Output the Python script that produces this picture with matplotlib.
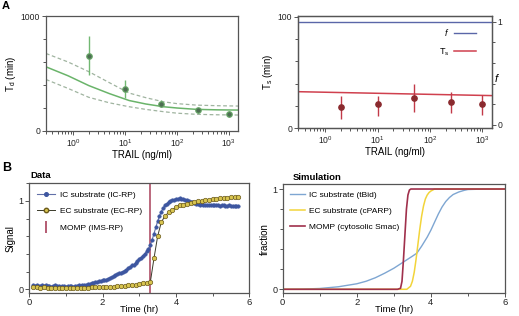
import numpy as np
import matplotlib
matplotlib.use("Agg")
import matplotlib.pyplot as plt
from matplotlib.lines import Line2D
from matplotlib.ticker import MultipleLocator, FixedLocator

plt.rcParams['font.family'] = ['Liberation Sans', 'DejaVu Sans']
plt.rcParams['mathtext.fontset'] = 'custom'
plt.rcParams['mathtext.rm'] = 'Liberation Sans'
plt.rcParams['mathtext.it'] = 'Liberation Sans:italic'

# ---------------- Panel A data ----------------
trail = [2, 10, 50, 250, 1000]
td_mean = [653, 361, 234, 179, 145]
td_lo = [486, 289, 205, 153, 118]
td_hi = [824, 442, 269, 202, 173]

fit_x = [0.3, 0.8, 2, 5, 12, 25, 55, 100, 240, 600, 1500]
fit_mid = [558, 480, 395, 325, 265, 235, 211, 200, 188, 184, 182]
fit_up = [674, 600, 516, 420, 330, 290, 254, 238, 225, 220, 217]
fit_low = [448, 370, 293, 245, 211, 188, 168, 155, 145, 141, 139]

ts_mean = [18.8, 22.0, 27.5, 23.9, 21.8]
ts_lo = [8.4, 11.3, 14.3, 14.0, 12.0]
ts_hi = [29.0, 29.3, 39.7, 32.8, 30.0]
ts_line_x = [0.3, 1500]
ts_line_y = [32.8, 29.3]
f_line_x = [0.3, 1500]
f_line_y = [1.0, 1.0]

# ---------------- Panel B data ----------------
t_ic_start, t_ic_step = 0.10, 0.05
ic_signal = [0.05, 0.04, 0.05, 0.04, 0.04, 0.05, 0.04, 0.05, 0.04, 0.04,
             0.03, 0.04, 0.05, 0.04, 0.04, 0.03, 0.04, 0.04, 0.03, 0.04,
             0.04, 0.04, 0.03, 0.04, 0.04, 0.05, 0.04, 0.05, 0.05,
             0.05, 0.06, 0.06, 0.07, 0.07, 0.08, 0.08, 0.09, 0.09, 0.10,
             0.11, 0.11, 0.12, 0.13, 0.14, 0.15, 0.16, 0.17, 0.18, 0.19,
             0.20, 0.21, 0.22, 0.24, 0.25, 0.27, 0.28, 0.30, 0.32, 0.34,
             0.36, 0.38, 0.40, 0.43, 0.46, 0.50,
             0.56, 0.63, 0.70, 0.77, 0.83, 0.88, 0.92, 0.95, 0.97, 0.99,
             1.00, 1.01, 1.01, 1.02, 1.02, 1.03, 1.02, 1.02, 1.01, 1.01,
             1.00, 0.99, 0.99, 0.98, 0.97, 0.97, 0.96, 0.97, 0.96, 0.96,
             0.95, 0.96, 0.95, 0.95, 0.96, 0.95, 0.95, 0.94, 0.95, 0.95,
             0.94, 0.94, 0.95, 0.94, 0.94, 0.94, 0.94, 0.94]
t_ec_start, t_ec_step = 0.10, 0.10
ec_signal = [0.03, 0.03, 0.02, 0.03, 0.02, 0.02, 0.02, 0.02, 0.02, 0.02,
             0.02, 0.02, 0.02, 0.02, 0.02, 0.02, 0.03, 0.03, 0.03, 0.03,
             0.03, 0.03, 0.03, 0.04, 0.04, 0.04, 0.05, 0.05, 0.05, 0.06,
             0.07, 0.07, 0.08,
             0.35, 0.60, 0.76, 0.83, 0.87, 0.90, 0.93,
             0.95, 0.96, 0.97, 0.98, 0.99, 1.00, 1.00, 1.01, 1.01, 1.02,
             1.02, 1.03, 1.03, 1.03, 1.04, 1.04, 1.05]
momp_time = 3.3

sim_ic_t = [0, 0.5, 1.0, 1.5, 2.0, 2.25, 2.5, 2.75, 3.0, 3.25, 3.5, 3.62, 3.75,
            3.9, 4.0, 4.1, 4.2, 4.3, 4.4, 4.5, 4.6, 4.75, 4.9, 5.0, 5.5, 6.0]
sim_ic = [0, 0.002, 0.008, 0.025, 0.055, 0.08, 0.115, 0.16, 0.21, 0.27, 0.33,
          0.36, 0.43, 0.52, 0.59, 0.67, 0.75, 0.82, 0.875, 0.915, 0.945, 0.97,
          0.987, 0.995, 1.0, 1.0]
sim_ec_t = [0, 3.35, 3.45, 3.5, 3.55, 3.6, 3.65, 3.7, 3.75, 3.8, 3.85, 3.9,
            3.95, 4.0, 4.1, 6.0]
sim_ec = [0, 0, 0.03, 0.08, 0.17, 0.30, 0.45, 0.60, 0.73, 0.83, 0.90, 0.94,
          0.965, 0.98, 1.0, 1.0]
sim_momp_t = [0, 3.1, 3.18, 3.22, 3.26, 3.3, 3.34, 3.38, 3.42, 3.46, 6.0]
sim_momp = [0, 0, 0.01, 0.08, 0.30, 0.55, 0.80, 0.94, 0.99, 1.0, 1.0]

# ---------------- styling ----------------
spine_c = '#555555'
tick_fs = 6.2
lab_fs = 7

fig = plt.figure(figsize=(5.19, 3.16), dpi=100)


def style(ax):
    for s in ax.spines.values():
        s.set_color(spine_c)
        s.set_linewidth(0.9)
    ax.tick_params(which='both', direction='out', colors=spine_c,
                   labelcolor='#222222', labelsize=tick_fs, width=0.7)
    ax.tick_params(which='major', length=3, pad=1.2)
    ax.tick_params(which='minor', length=2)


# ---- A left ----
axA1 = fig.add_axes([46/519, 1-131/316, 192/519, 115/316])
style(axA1)
axA1.set_xscale('log')
axA1.set_xlim(0.3, 1500)
axA1.set_ylim(0, 1000)
axA1.plot(fit_x, fit_mid, color='#6ab46a', lw=1.1)
axA1.plot(fit_x, fit_up, color='#a0b4a0', lw=0.9, ls=(0, (3, 2)))
axA1.plot(fit_x, fit_low, color='#a0b4a0', lw=0.9, ls=(0, (3, 2)))
yerr = [np.array(td_mean) - np.array(td_lo), np.array(td_hi) - np.array(td_mean)]
axA1.errorbar(trail, td_mean, yerr=yerr, fmt='o', ms=4, mfc='#4d6e52',
              mec='#6aaa6a', mew=0.8, ecolor='#72b872', elinewidth=1.0,
              capsize=0)
axA1.yaxis.set_major_locator(FixedLocator([0, 1000]))
axA1.yaxis.set_minor_locator(MultipleLocator(200))
axA1.set_xticks([1, 10, 100, 1000])
axA1.set_ylabel('T$_\\mathrm{d}$ (min)', fontsize=lab_fs, labelpad=2)
axA1.set_xlabel('TRAIL (ng/ml)', fontsize=lab_fs, labelpad=1)

# ---- A right ----
axA2 = fig.add_axes([298/519, 1-128.3/316, 193.5/519, 112.3/316])
style(axA2)
axA2.set_xscale('log')
axA2.set_xlim(0.3, 1500)
axA2.set_ylim(0, 100.6)
axA2.yaxis.set_major_locator(FixedLocator([0, 100]))
axA2.yaxis.set_minor_locator(MultipleLocator(20))
axA2.set_xticks([1, 10, 100, 1000])
axA2.plot(ts_line_x, ts_line_y, color='#d0404e', lw=1.1)
yerr2 = [np.array(ts_mean) - np.array(ts_lo), np.array(ts_hi) - np.array(ts_mean)]
axA2.errorbar(trail, ts_mean, yerr=yerr2, fmt='o', ms=3.8, mfc='#8a2a2e',
              mec='#8a2a2e', ecolor='#c23a48', elinewidth=1.0, capsize=0)
axA2.set_ylabel('T$_\\mathrm{s}$ (min)', fontsize=lab_fs, labelpad=2)
axA2.set_xlabel('TRAIL (ng/ml)', fontsize=lab_fs, labelpad=1)
axA2r = axA2.twinx()
style(axA2r)
axA2r.set_ylim(-0.032, 1.055)
axA2r.yaxis.set_major_locator(FixedLocator([0, 1]))
axA2r.yaxis.set_minor_locator(MultipleLocator(0.2))
axA2r.plot(f_line_x, f_line_y, color='#5a66a8', lw=1.0)
axA2r.set_ylabel('$\\mathit{f}$', fontsize=lab_fs+1, rotation=0)
axA2r.yaxis.set_label_coords(1.03, 0.5)
handles = [Line2D([], [], color='#5a66a8', lw=1.0),
           Line2D([], [], color='#d0404e', lw=1.1)]
axA2.legend(handles, ['$\\mathit{f}$', 'T$_\\mathrm{s}$'], loc='upper right',
            bbox_to_anchor=(0.96, 0.97), frameon=False, markerfirst=False,
            fontsize=6.5, handlelength=2.4, labelspacing=0.9, handletextpad=0.5)

# ---- B left ----
axB1 = fig.add_axes([29.3/519, 1-293.3/316, 220/519, 110/316])
style(axB1)
t_ic = t_ic_start + t_ic_step * np.arange(len(ic_signal))
t_ec = t_ec_start + t_ec_step * np.arange(len(ec_signal))
axB1.axvline(momp_time, color='#a8405a', lw=1.1)
axB1.plot(t_ic, ic_signal, '-o', color='#6270a8', lw=0.8, ms=2.5,
          mfc='#3d56a0', mec='#3d56a0', mew=0.4)
axB1.plot(t_ec, ec_signal, '-o', color='#3a3a2a', lw=0.7, ms=3.2,
          mfc='#d8c450', mec='#6b5a1a', mew=0.5)
axB1.set_xlim(0, 6)
axB1.set_ylim(-0.045, 1.2)
axB1.xaxis.set_major_locator(MultipleLocator(2))
axB1.xaxis.set_minor_locator(MultipleLocator(1))
axB1.yaxis.set_major_locator(FixedLocator([0, 1]))
axB1.yaxis.set_minor_locator(MultipleLocator(0.2))
axB1.tick_params(axis='x', labelsize=6.8, pad=0.5)
axB1.tick_params(axis='y', labelsize=6.5, pad=1)
axB1.set_xlabel('Time (hr)', fontsize=6.8, labelpad=-1.8)
axB1.set_ylabel('Signal', fontsize=lab_fs, labelpad=2)
hB = [Line2D([], [], color='#6270a8', lw=0.8, marker='o', ms=2.6,
             mfc='#3d56a0', mec='#3d56a0'),
      Line2D([], [], color='#3a3a2a', lw=0.7, marker='o', ms=3.2,
             mfc='#d8c450', mec='#6b5a1a'),
      Line2D([], [], color='#a8405a', lw=0, marker='|', ms=8, mew=1.2)]
axB1.legend(hB, ['IC substrate (IC-RP)', 'EC substrate (EC-RP)', 'MOMP (IMS-RP)'],
            loc='upper left', bbox_to_anchor=(0.0, 1.0), frameon=False,
            fontsize=6, handlelength=2.2, labelspacing=1.05, handletextpad=0.6)
fig.text(30/519, 1-176/316, 'Data', fontsize=6.8, fontweight='bold',
         ha='left', va='center')

# ---- B right ----
axB2 = fig.add_axes([282.7/519, 1-293.3/316, 222.3/519, 109/316])
style(axB2)
axB2.plot(sim_ic_t, sim_ic, color='#7ea6d2', lw=1.0)
axB2.plot(sim_ec_t, sim_ec, color='#f2d43a', lw=1.1)
axB2.plot(sim_momp_t, sim_momp, color='#a0304c', lw=1.2)
axB2.set_xlim(0, 6)
axB2.set_ylim(-0.04, 1.047)
axB2.xaxis.set_major_locator(MultipleLocator(2))
axB2.xaxis.set_minor_locator(MultipleLocator(1))
axB2.yaxis.set_major_locator(FixedLocator([0, 1]))
axB2.yaxis.set_minor_locator(MultipleLocator(0.2))
axB2.tick_params(axis='x', labelsize=6.8, pad=0.5)
axB2.tick_params(axis='y', labelsize=6.5, pad=1)
axB2.set_xlabel('Time (hr)', fontsize=6.8, labelpad=-1.8)
axB2.set_ylabel('fraction', fontsize=lab_fs, labelpad=2)
hS = [Line2D([], [], color='#7ea6d2', lw=1.0),
      Line2D([], [], color='#f2d43a', lw=1.1),
      Line2D([], [], color='#a0304c', lw=1.2)]
axB2.legend(hS, ['IC substrate (tBid)', 'EC substrate (cPARP)',
                 'MOMP (cytosolic Smac)'],
            loc='upper left', bbox_to_anchor=(0.0, 1.01), frameon=False,
            fontsize=6, handlelength=1.8, labelspacing=1.0, handletextpad=0.5)
fig.text(293/519, 1-177/316, 'Simulation', fontsize=6.8, fontweight='bold',
         ha='left', va='center')

fig.text(0.004, 0.998, 'A', fontsize=8, fontweight='bold', ha='left', va='top')
fig.text(0.004, 1-168/316, 'B', fontsize=9, fontweight='bold', ha='left',
         va='center')

fig.savefig('out.png', dpi=100)
